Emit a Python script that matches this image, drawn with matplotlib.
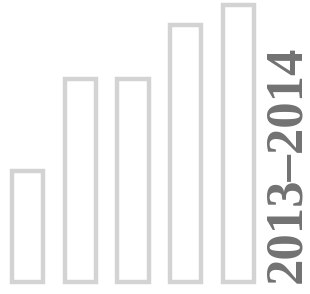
import matplotlib
matplotlib.use("Agg")
import matplotlib.pyplot as plt
import numpy as np

# bar heights (arbitrary units)
values = [111, 203, 203, 257, 277]
label = "2013\u20132014"

fig = plt.figure(figsize=(3.10, 2.94), dpi=100)
ax = fig.add_axes([0, 0, 1, 1])

x = np.arange(len(values))
ax.bar(x, values, width=0.588, facecolor="white", edgecolor="#d3d3d3", linewidth=3.2)

ax.set_xlim(-0.521, 5.355)
ax.set_ylim(-12, 282)
ax.axis("off")

ax.text(0.926, 0.44, label, transform=ax.transAxes, rotation=90,
        ha="center", va="center", fontsize=38, fontweight="bold",
        family=["Liberation Serif", "DejaVu Serif"], color="#727272")

fig.savefig("out.png", dpi=100)
